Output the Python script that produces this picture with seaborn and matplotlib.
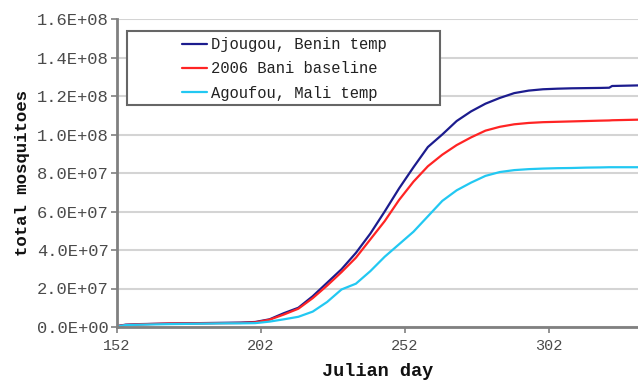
import numpy as np
import pandas as pd
import matplotlib
matplotlib.use("Agg")
import matplotlib.pyplot as plt
from matplotlib.patches import Rectangle
import seaborn as sns
from matplotlib.ticker import FuncFormatter

days = [152, 155, 160, 170, 180, 190, 195, 200, 205, 210, 215, 220, 225, 230,
        235, 240, 245, 250, 255, 260, 265, 270, 275, 280, 285, 290, 295, 300,
        305, 310, 315, 320, 323, 324, 330, 333]

djougou = [0.5e6, 1.2e6, 1.5e6, 1.8e6, 2.0e6, 2.2e6, 2.3e6, 2.6e6, 4.0e6, 7.2e6,
           1.0e7, 1.6e7, 2.3e7, 3.0e7, 3.85e7, 4.85e7, 6.0e7, 7.2e7, 8.3e7, 9.35e7,
           1.0e8, 1.07e8, 1.12e8, 1.16e8, 1.19e8, 1.215e8, 1.228e8, 1.235e8,
           1.238e8, 1.24e8, 1.241e8, 1.242e8, 1.243e8, 1.252e8, 1.254e8, 1.255e8]

bani = [0.4e6, 1.1e6, 1.4e6, 1.8e6, 1.9e6, 2.0e6, 2.1e6, 2.4e6, 3.8e6, 6.5e6,
        9.5e6, 1.5e7, 2.15e7, 2.85e7, 3.6e7, 4.55e7, 5.5e7, 6.6e7, 7.55e7, 8.35e7,
        8.95e7, 9.45e7, 9.85e7, 1.02e8, 1.04e8, 1.053e8, 1.06e8, 1.064e8,
        1.066e8, 1.068e8, 1.07e8, 1.072e8, 1.073e8, 1.074e8, 1.076e8, 1.077e8]

agoufou = [0.3e6, 1.0e6, 1.2e6, 1.5e6, 1.7e6, 1.9e6, 1.9e6, 2.0e6, 2.8e6, 4.0e6,
           5.3e6, 8.0e6, 1.3e7, 1.95e7, 2.25e7, 2.9e7, 3.65e7, 4.3e7, 4.95e7, 5.75e7,
           6.55e7, 7.1e7, 7.5e7, 7.85e7, 8.05e7, 8.15e7, 8.2e7, 8.23e7,
           8.25e7, 8.26e7, 8.28e7, 8.29e7, 8.3e7, 8.3e7, 8.3e7, 8.3e7]

labels = ["Djougou, Benin temp", "2006 Bani baseline", "Agoufou, Mali temp"]
colors = ["#1c1c8e", "#ff2424", "#22c8f2"]
xticks = [152, 202, 252, 302]

df = pd.concat([
    pd.DataFrame({"day": days, "total": djougou, "series": labels[0]}),
    pd.DataFrame({"day": days, "total": bani, "series": labels[1]}),
    pd.DataFrame({"day": days, "total": agoufou, "series": labels[2]}),
])

sns.set_theme(style="white")
plt.rcParams["font.family"] = ["Liberation Mono", "DejaVu Sans Mono"]

W, H = 638, 381
fig = plt.figure(figsize=(W / 100, H / 100), dpi=100)
ax = fig.add_axes([117 / W, 1 - 327 / H, 1 - 117 / W, (327 - 19) / H])

sns.lineplot(data=df, x="day", y="total", hue="series", hue_order=labels,
             palette=colors, linewidth=1.6, ax=ax, estimator=None)

ax.set_xlim(152, 333)
ax.set_ylim(0, 1.6e8)
ax.set_xticks(xticks)
ax.set_xticklabels([str(t) for t in xticks])
ax.set_yticks(np.arange(0, 1.61e8, 2e7))
ax.yaxis.set_major_formatter(FuncFormatter(
    lambda v, p: ("%.1E" % v) if v else "0.0E+00"))

ax.grid(axis="y", color="#d4d4d4", linewidth=1.5)
ax.set_axisbelow(True)
for s in ["top", "right"]:
    ax.spines[s].set_visible(False)
for s in ["left", "bottom"]:
    ax.spines[s].set_color("#808080")
    ax.spines[s].set_linewidth(2)

ax.tick_params(axis="both", which="both", direction="out", length=4, width=1.2,
               color="#808080", labelcolor="#4a4a4a",
               left=True, bottom=True)
ax.tick_params(axis="y", pad=2, labelsize=12.3)
ax.tick_params(axis="x", pad=5, labelsize=11)

ax.set_xlabel("Julian day", fontsize=13.4, fontweight="bold", color="#111111",
              labelpad=7)
ax.set_ylabel("total mosquitoes", fontsize=12.5, fontweight="bold", color="#111111",
              labelpad=5)

# legend box
box = Rectangle(((127 - 117) / 521, (327 - 105) / 308), 313 / 521, 74 / 308,
                transform=ax.transAxes, facecolor="white", edgecolor="#666666",
                linewidth=1.5, zorder=5)
ax.add_patch(box)
leg = ax.legend(loc="upper left", bbox_to_anchor=((182 - 117) / 521, (327 - 37) / 308),
                frameon=False, fontsize=11.2, borderpad=0, borderaxespad=0,
                handlelength=1.6, handletextpad=0.25, labelspacing=0.6,
                title=None)
leg.set_zorder(6)
for t in leg.get_texts():
    t.set_color("#222222")
for line in leg.get_lines():
    line.set_linewidth(1.6)

fig.savefig("out.png", dpi=100)
